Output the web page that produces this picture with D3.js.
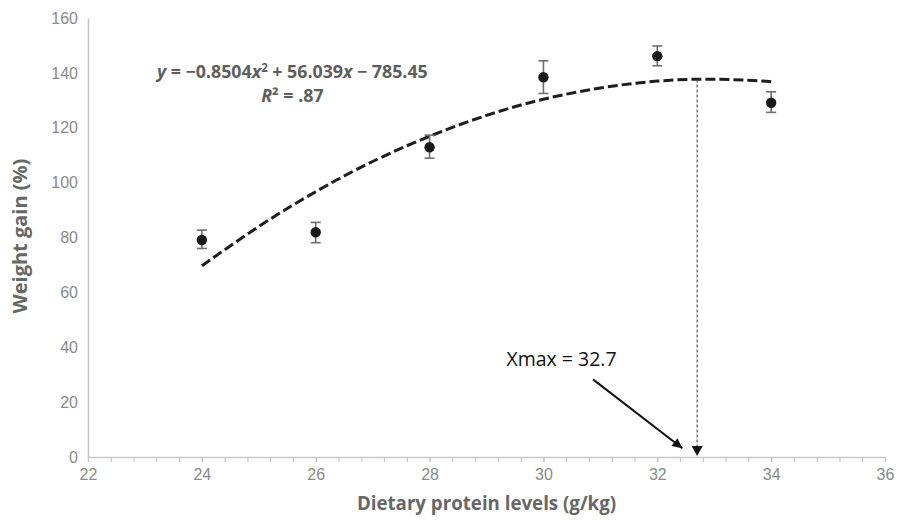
<!DOCTYPE html>
<html>
<head>
<meta charset="utf-8">
<script src="https://cdn.jsdelivr.net/npm/d3@7"></script>
<style>
  body { margin: 0; background: #fff; }
  svg { display: block; font-family: "Open Sans", sans-serif; }
</style>
</head>
<body>
<div id="chart"></div>
<script>
// protein levels (g/kg) and weight gain (%)
var protein = [24, 26, 28, 30, 32, 34];
var gain = [79.1, 81.9, 112.9, 138.4, 146.1, 129.1];
var errUp = [82.7, 85.5, 117.3, 144.4, 149.8, 133.1];
var errDown = [76.0, 78.1, 108.9, 132.5, 142.6, 125.6];

// quadratic trendline as drawn (read at each integer level)
var trendX = [24, 25, 26, 27, 28, 29, 30, 31, 32, 33, 34];
var trendY = [69.7, 84.0, 96.7, 107.7, 116.9, 124.5, 130.4, 134.5, 137.0, 137.7, 136.8];

var xTicks = [22, 24, 26, 28, 30, 32, 34, 36];
var yTicks = [0, 20, 40, 60, 80, 100, 120, 140, 160];

var xMax = 32.7;
var xMaxTop = 137.6;
var xMaxLabel = "Xmax = 32.7";
var labelPos = [29.35, 33.2];
var arrowFrom = [30.87, 28.3];
var arrowTo = [32.44, 3.2];

var margin = { top: 18, right: 12, bottom: 63, left: 88 };
var W = 897, H = 520;
var width = W - margin.left - margin.right;
var height = H - margin.top - margin.bottom;

var x = d3.scaleLinear().domain([22, 36]).range([0, width]);
var y = d3.scaleLinear().domain([0, 160]).range([height, 0]);

var svgRoot = d3.select("#chart").append("svg")
    .attr("width", W)
    .attr("height", H);

var defs = svgRoot.append("defs");
defs.append("marker")
    .attr("id", "arrowBlack")
    .attr("viewBox", "0 0 10 10")
    .attr("refX", 10).attr("refY", 5)
    .attr("markerWidth", 6).attr("markerHeight", 5)
    .attr("markerUnits", "strokeWidth")
    .attr("orient", "auto")
  .append("path")
    .attr("d", "M0,0 L10,5 L0,10 Z")
    .attr("fill", "#111");

var svg = svgRoot.append("g")
    .attr("transform", "translate(" + margin.left + "," + margin.top + ")");

// y axis: line plus labels only
var yAxis = svg.append("g")
    .call(d3.axisLeft(y).tickValues(yTicks).tickSize(0).tickPadding(10));
yAxis.select(".domain").attr("stroke", "#c8c8c8").attr("stroke-width", 1.5);
yAxis.selectAll("text")
    .attr("fill", "#8a8a8a")
    .style("font-size", "16px");

// x axis with minor ticks every 0.4
var minor = d3.range(0, 36).map(function(i) { return 22 + i * 0.4; });
var xAxisMinor = svg.append("g")
    .attr("transform", "translate(0," + height + ")")
    .call(d3.axisBottom(x).tickValues(minor).tickSize(5).tickFormat(""));
xAxisMinor.select(".domain").remove();
xAxisMinor.selectAll("line").attr("stroke", "#c8c8c8").attr("stroke-width", 1.2);

var xAxis = svg.append("g")
    .attr("transform", "translate(0," + height + ")")
    .call(d3.axisBottom(x).tickValues(xTicks).tickSize(5).tickSizeOuter(0).tickPadding(7).tickFormat(d3.format("d")));
xAxis.select(".domain").attr("stroke", "#c8c8c8").attr("stroke-width", 1.5);
xAxis.selectAll("line").attr("stroke", "#c8c8c8").attr("stroke-width", 1.2);
xAxis.selectAll("text")
    .attr("fill", "#8a8a8a")
    .style("font-size", "16px");

// axis titles
svg.append("text")
    .attr("x", width / 2)
    .attr("y", height + 53)
    .attr("text-anchor", "middle")
    .attr("fill", "#676767")
    .style("font-size", "18.7px")
    .style("font-weight", "bold")
    .text("Dietary protein levels (g/kg)");

svg.append("text")
    .attr("transform", "rotate(-90)")
    .attr("x", -(y(80.5)))
    .attr("y", -61)
    .attr("text-anchor", "middle")
    .attr("fill", "#676767")
    .style("font-size", "20px")
    .style("font-weight", "bold")
    .text("Weight gain (%)");

// trendline
var trend = trendX.map(function(d, i) { return [d, trendY[i]]; });
var line = d3.line()
    .x(function(d) { return x(d[0]); })
    .y(function(d) { return y(d[1]); })
    .curve(d3.curveNatural);

svg.append("path")
    .datum(trend)
    .attr("fill", "none")
    .attr("stroke", "#1e1e1e")
    .attr("stroke-width", 3)
    .attr("stroke-dasharray", "10,4")
    .attr("d", line);

// vertical xmax guide with arrowhead
svg.append("line")
    .attr("x1", x(xMax)).attr("x2", x(xMax))
    .attr("y1", y(xMaxTop)).attr("y2", y(0) - 10)
    .attr("stroke", "#555")
    .attr("stroke-width", 1.2)
    .attr("stroke-dasharray", "3,2");

svg.append("path")
    .attr("d", "M" + (x(xMax) - 5.5) + "," + (y(0) - 11) +
               "L" + (x(xMax) + 5.5) + "," + (y(0) - 11) +
               "L" + x(xMax) + "," + (y(0) - 1) + "Z")
    .attr("fill", "#111");

// error bars
var eb = svg.selectAll(".err")
    .data(protein)
  .enter().append("g")
    .attr("class", "err");

eb.append("line")
    .attr("x1", function(d) { return x(d); })
    .attr("x2", function(d) { return x(d); })
    .attr("y1", function(d, i) { return y(errUp[i]); })
    .attr("y2", function(d, i) { return y(errDown[i]); })
    .attr("stroke", "#6e6e6e").attr("stroke-width", 1.6);

eb.append("line")
    .attr("x1", function(d) { return x(d) - 5; })
    .attr("x2", function(d) { return x(d) + 5; })
    .attr("y1", function(d, i) { return y(errUp[i]); })
    .attr("y2", function(d, i) { return y(errUp[i]); })
    .attr("stroke", "#6e6e6e").attr("stroke-width", 1.6);

eb.append("line")
    .attr("x1", function(d) { return x(d) - 5; })
    .attr("x2", function(d) { return x(d) + 5; })
    .attr("y1", function(d, i) { return y(errDown[i]); })
    .attr("y2", function(d, i) { return y(errDown[i]); })
    .attr("stroke", "#6e6e6e").attr("stroke-width", 1.6);

// points
svg.selectAll(".dot")
    .data(protein)
  .enter().append("circle")
    .attr("class", "dot")
    .attr("cx", function(d) { return x(d); })
    .attr("cy", function(d, i) { return y(gain[i]); })
    .attr("r", 5.2)
    .attr("fill", "#1a1a1a");

// equation
var eq = svg.append("text")
    .attr("x", x(25.59))
    .attr("y", y(138.2))
    .attr("text-anchor", "middle")
    .attr("fill", "#5e5e5e")
    .style("font-size", "17.8px")
    .style("font-weight", "bold");
eq.append("tspan").style("font-style", "italic").text("y");
eq.append("tspan").text(" = −0.8504");
eq.append("tspan").style("font-style", "italic").text("x");
eq.append("tspan").attr("dy", -6).style("font-size", "11.5px").text("2");
eq.append("tspan").attr("dy", 6).text(" + 56.039");
eq.append("tspan").style("font-style", "italic").text("x");
eq.append("tspan").text(" − 785.45");

var r2 = svg.append("text")
    .attr("x", x(25.59))
    .attr("y", y(129.4))
    .attr("text-anchor", "middle")
    .attr("fill", "#5e5e5e")
    .style("font-size", "17.8px")
    .style("font-weight", "bold");
r2.append("tspan").style("font-style", "italic").text("R");
r2.append("tspan").text("² = .87");

// Xmax annotation
svg.append("text")
    .attr("x", x(labelPos[0]))
    .attr("y", y(labelPos[1]))
    .attr("fill", "#111")
    .style("font-size", "19.5px")
    .text(xMaxLabel);

svg.append("line")
    .attr("x1", x(arrowFrom[0])).attr("y1", y(arrowFrom[1]))
    .attr("x2", x(arrowTo[0])).attr("y2", y(arrowTo[1]))
    .attr("stroke", "#111")
    .attr("stroke-width", 2)
    .attr("marker-end", "url(#arrowBlack)");
</script>
</body>
</html>
